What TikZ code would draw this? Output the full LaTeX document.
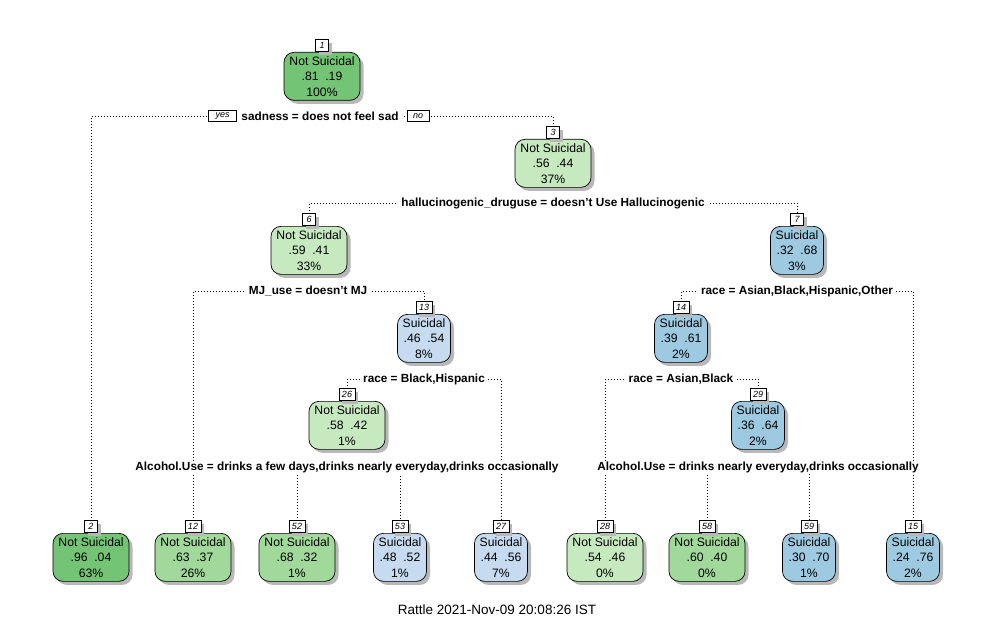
\documentclass[tikz,border=0pt]{standalone}
\usepackage{fontspec}
\setmainfont{Liberation Sans}
\usetikzlibrary{shadows}
\definecolor{gA}{RGB}{116,196,118}
\definecolor{gB}{RGB}{161,217,155}
\definecolor{gC}{RGB}{199,233,192}
\definecolor{bC}{RGB}{198,219,239}
\definecolor{bB}{RGB}{158,202,225}
\pgfdeclarelayer{bg}
\pgfsetlayers{bg,main}
\tikzset{
  tbox/.style={draw, line width=0.7pt, rounded corners=10pt, minimum height=48pt, inner sep=0pt, align=center,
    font=\fontsize{12.2}{15.5}\selectfont, anchor=north,
    drop shadow={shadow xshift=3.5pt, shadow yshift=-3.5pt, fill=black!28, opacity=1}},
  ns/.style={tbox, minimum width=76pt},
  su/.style={tbox, minimum width=53pt},
  numbox/.style={draw, fill=white, line width=0.6pt, inner xsep=3pt, inner ysep=0pt, minimum height=12pt, minimum width=13pt,
    font=\fontsize{9}{9}\selectfont\itshape, anchor=south,
    drop shadow={shadow xshift=3pt, shadow yshift=-3pt, fill=black!28, opacity=1}},
  split/.style={fill=white, inner xsep=3pt, inner ysep=1pt, font=\fontsize{11.8}{14}\selectfont\bfseries},
  conn/.style={line width=0.8pt, dash pattern=on 0.8pt off 2.2pt},
  yn/.style={draw, fill=white, line width=0.6pt, inner sep=0pt, minimum height=11.5pt, font=\fontsize{9}{9}\selectfont\itshape},
}
\newcommand\tnode[9]{%
  \node[#4, fill=#5] (#1) at (#2,#3) {#7\\#8\\#9\%};
  \node[numbox] (#1n) at (#1.north) {#6};
}
\newcommand\pr[2]{#1\hspace{0.55em}#2}
\begin{document}
\begin{tikzpicture}[x=1pt,y=-1pt]
\useasboundingbox (0,0) rectangle (993,623);
% internal nodes
\tnode{n1}{322}{52}{ns}{gA}{1}{Not Suicidal}{\pr{.81}{.19}}{100}
\tnode{n3}{553}{139}{ns}{gC}{3}{Not Suicidal}{\pr{.56}{.44}}{37}
\tnode{n6}{309}{226}{ns}{gC}{6}{Not Suicidal}{\pr{.59}{.41}}{33}
\tnode{n7}{797}{226}{su}{bB}{7}{Suicidal}{\pr{.32}{.68}}{3}
\tnode{n13}{424}{314}{su}{bC}{13}{Suicidal}{\pr{.46}{.54}}{8}
\tnode{n14}{681}{314}{su}{bB}{14}{Suicidal}{\pr{.39}{.61}}{2}
\tnode{n26}{347}{401}{ns}{gC}{26}{Not Suicidal}{\pr{.58}{.42}}{1}
\tnode{n29}{758}{401}{su}{bB}{29}{Suicidal}{\pr{.36}{.64}}{2}
% leaves
\tnode{n2}{91}{533}{ns}{gA}{2}{Not Suicidal}{\pr{.96}{.04}}{63}
\tnode{n12}{193}{533}{ns}{gB}{12}{Not Suicidal}{\pr{.63}{.37}}{26}
\tnode{n52}{297}{533}{ns}{gB}{52}{Not Suicidal}{\pr{.68}{.32}}{1}
\tnode{n53}{400}{533}{su}{bC}{53}{Suicidal}{\pr{.48}{.52}}{1}
\tnode{n27}{501}{533}{su}{bC}{27}{Suicidal}{\pr{.44}{.56}}{7}
\tnode{n28}{605}{533}{ns}{gC}{28}{Not Suicidal}{\pr{.54}{.46}}{0}
\tnode{n58}{707}{533}{ns}{gB}{58}{Not Suicidal}{\pr{.60}{.40}}{0}
\tnode{n59}{809}{533}{su}{bB}{59}{Suicidal}{\pr{.30}{.70}}{1}
\tnode{n15}{913}{533}{su}{bB}{15}{Suicidal}{\pr{.24}{.76}}{2}
% split labels
\node[split] (s1) at (320,116) {sadness = does not feel sad};
\node[yn, minimum width=28pt] (yes) at (222.5,116) {yes};
\node[yn, minimum width=22pt] (no) at (418,116) {no};
\node[split] (s3) at (553,203) {hallucinogenic\_druguse = doesn't Use Hallucinogenic};
\node[split] (s6) at (308,291) {MJ\_use = doesn't MJ};
\node[split] (s7) at (797,291) {race = Asian,Black,Hispanic,Other};
\node[split] (s13) at (424,379) {race = Black,Hispanic};
\node[split] (s14) at (681,379) {race = Asian,Black};
\node[split] (s26) at (347,467) {Alcohol.Use = drinks a few days,drinks nearly everyday,drinks occasionally};
\node[split] (s29) at (758,467) {Alcohol.Use = drinks nearly everyday,drinks occasionally};
% connectors
\begin{pgfonlayer}{bg}
\draw[conn] (n2n.north) -- (n2n.north |- s1) -- (n3n.north |- s1) -- (n3n.north);
\draw[conn] (n6n.north) -- (n6n.north |- s3) -- (n7n.north |- s3) -- (n7n.north);
\draw[conn] (n12n.north) -- (n12n.north |- s6) -- (n13n.north |- s6) -- (n13n.north);
\draw[conn] (n14n.north) -- (n14n.north |- s7) -- (n15n.north |- s7) -- (n15n.north);
\draw[conn] (n26n.north) -- (n26n.north |- s13) -- (n27n.north |- s13) -- (n27n.north);
\draw[conn] (n28n.north) -- (n28n.north |- s14) -- (n29n.north |- s14) -- (n29n.north);
\draw[conn] (n52n.north) -- (n52n.north |- s26) -- (n53n.north |- s26) -- (n53n.north);
\draw[conn] (n58n.north) -- (n58n.north |- s29) -- (n59n.north |- s29) -- (n59n.north);
\end{pgfonlayer}
% caption
\node[font=\fontsize{13.5}{16}\selectfont] (cap) at (497,610) {Rattle 2021-Nov-09 20:08:26 IST};
\end{tikzpicture}
\end{document}
